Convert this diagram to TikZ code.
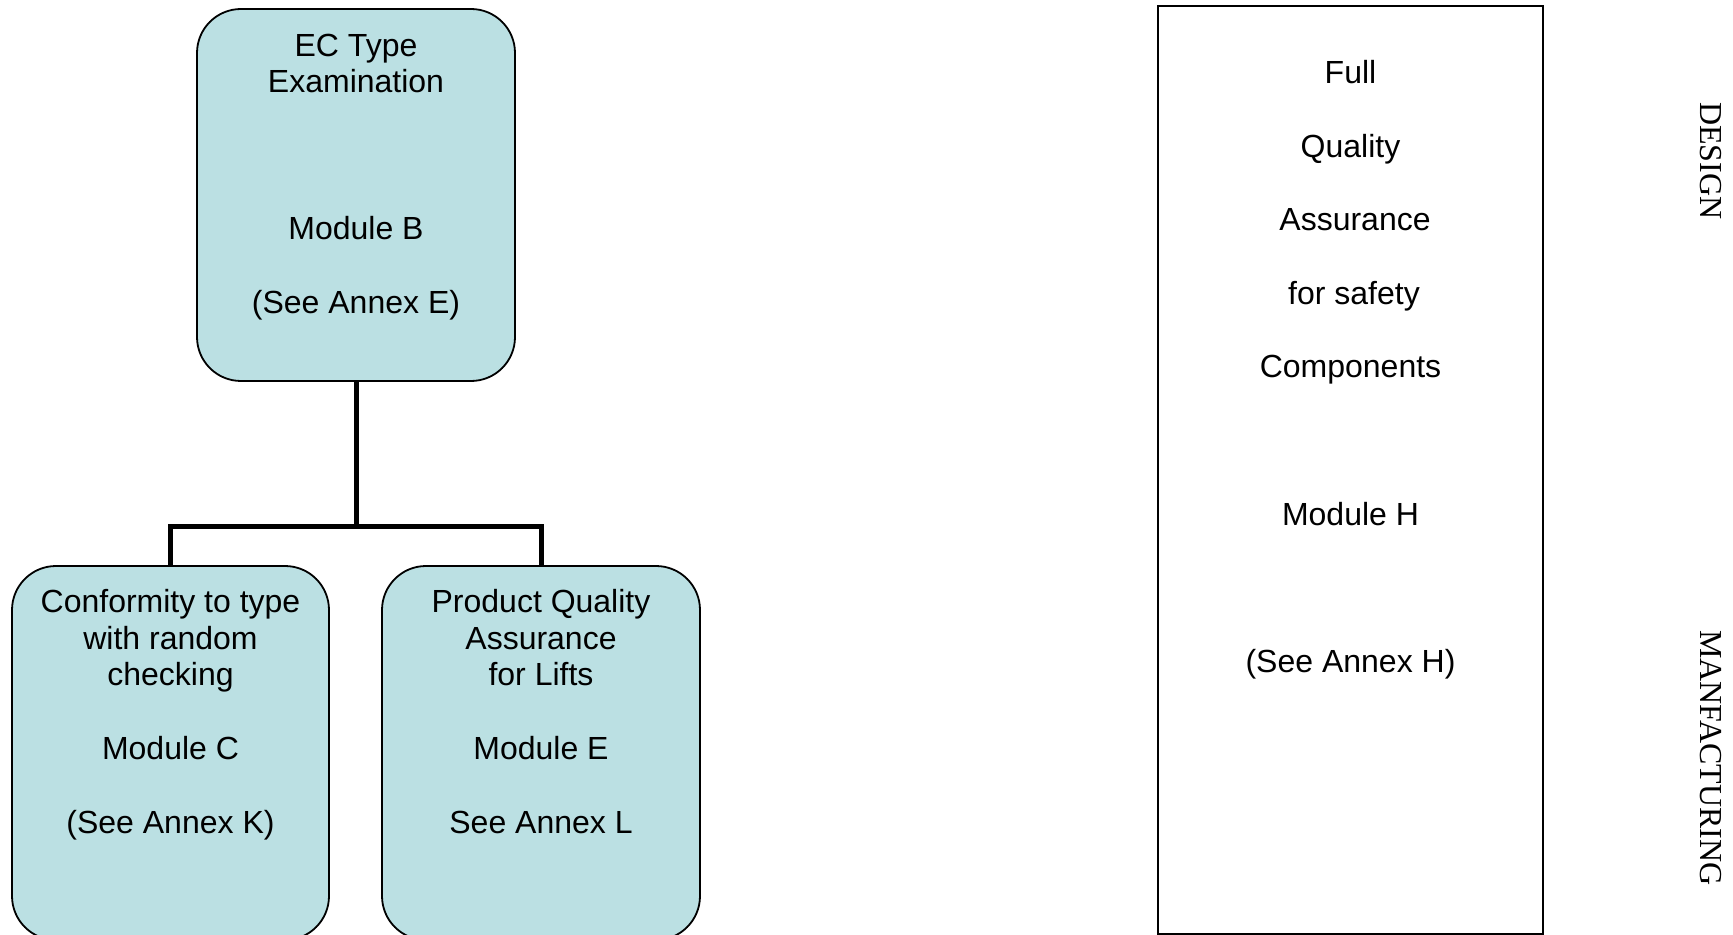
\documentclass[tikz,border=0pt]{standalone}
\usepackage{fontspec}
\setmainfont{Liberation Sans}
\newfontfamily\serifrm{Liberation Serif}
\definecolor{modfill}{RGB}{187,224,227}
\tikzset{
  modbox/.style={draw=black, line width=0.9pt, fill=modfill, rounded corners=22pt, inner sep=0pt},
  conn/.style={draw=black, line width=2.5pt},
  txt/.style={anchor=base, inner sep=0pt, font=\fontsize{16}{18.4}\selectfont},
  sidetxt/.style={rotate=-90, inner sep=0pt, font=\serifrm\fontsize{16}{18}\selectfont},
  plainbox/.style={draw=black, line width=1.1pt, inner sep=0pt}
}
\begin{document}
\begin{tikzpicture}[x=0.5pt,y=-0.5pt]
\useasboundingbox (0,0) rectangle (1733,935);
% boxes
\node[modbox, minimum width=159pt, minimum height=186pt] (top) at (356,195) {};
\node[modbox, minimum width=158.5pt, minimum height=187pt] (bl) at (170.5,753) {};
\node[modbox, minimum width=159pt, minimum height=187pt] (br) at (541,753) {};
\node[plainbox, minimum width=192.5pt, minimum height=464pt] (fq) at (1350.5,470) {};
% connectors
\coordinate (j) at (356,526);
\draw[conn] (top.south) -- (j);
\draw[conn] (bl.north) |- (j) -| (br.north);
% top box text
\node[txt] (t1) at (356,57) {EC Type};
\node[txt] (t2) at (356,93) {Examination};
\node[txt] (t3) at (356,240) {Module B};
\node[txt] (t4) at (356,314) {(See Annex E)};
% bottom-left text
\node[txt] (l1) at (170.5,612) {Conformity to type};
\node[txt] (l2) at (170.5,649) {with random};
\node[txt] (l3) at (170.5,685) {checking};
\node[txt] (l4) at (170.5,759) {Module C};
\node[txt] (l5) at (170.5,833) {(See Annex K)};
% bottom-right text
\node[txt] (r1) at (541,612) {Product Quality};
\node[txt] (r2) at (541,649) {Assurance};
\node[txt] (r3) at (541,685) {for Lifts};
\node[txt] (r4) at (541,759) {Module E};
\node[txt] (r5) at (541,833) {See Annex L};
% right box text
\node[txt] (h1) at (1350.5,84) {Full};
\node[txt] (h2) at (1350.5,158) {Quality};
\node[txt] (h3) at (1355,231) {Assurance};
\node[txt] (h4) at (1354,305) {for safety};
\node[txt] (h5) at (1350.5,378) {Components};
\node[txt] (h6) at (1350.5,525) {Module H};
\node[txt] (h7) at (1350.5,672) {(See Annex H)};
% side labels
\node[sidetxt] (design) at (1711,161) {DESIGN};
\node[sidetxt] (manf) at (1711,758) {MANFACTURING};
\end{tikzpicture}
\end{document}
